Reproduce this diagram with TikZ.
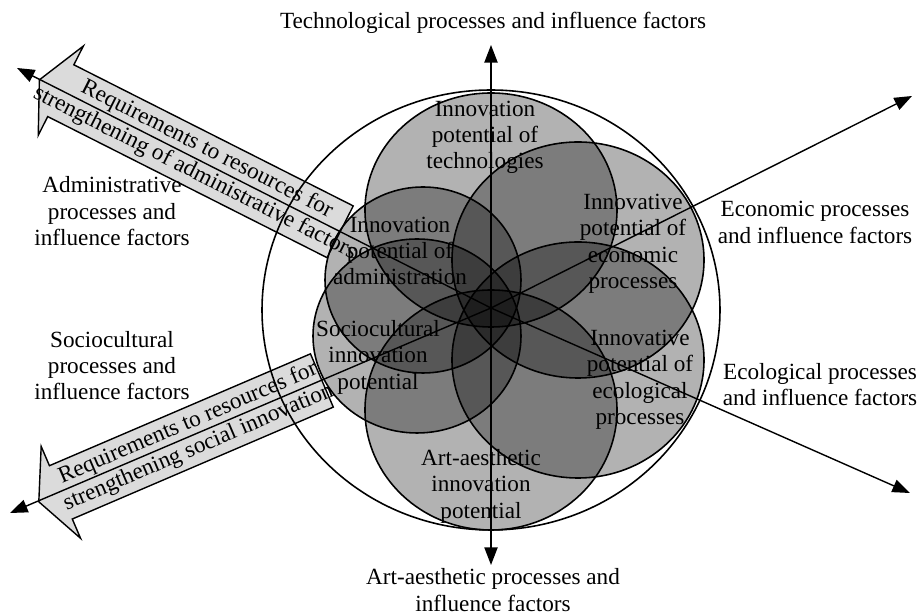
\documentclass[tikz,border=0pt]{standalone}
\usepackage{fontspec}
\setmainfont{Liberation Serif}
\usetikzlibrary{arrows.meta,calc,positioning}

\begin{document}
\begin{tikzpicture}[x=0.02cm, y=0.02cm, >={Triangle[length=10pt,width=7.5pt]},
  font=\fontsize{13.2}{15}\selectfont]
\tikzstyle{petal}=[draw, line width=0.9pt, fill=black, fill opacity=0.3]
\tikzstyle{axisline}=[line width=0.8pt]
\tikzstyle{fatarrow}=[draw, line width=0.8pt, fill=black, fill opacity=0.14]
\tikzstyle{factor}=[align=center, inner sep=0pt]
\tikzstyle{potential}=[align=center, inner sep=0pt]

\useasboundingbox (0,0) rectangle (917,615);

% centre and ends of the axes
\coordinate (c) at (491,307);
\coordinate (tech) at (491,570);
\coordinate (art) at (491,50);
\coordinate (econ) at (912,519);
\coordinate (ecol) at (910,122);
\coordinate (admin) at (17,547);
\coordinate (socio) at (10,102);

% outer circle and the six potentials
\draw[line width=0.9pt] (491,305) ellipse [x radius=229, y radius=220];
\draw[petal] (491,405) ellipse [x radius=126, y radius=117];
\draw[petal] (578,355) ellipse [x radius=126, y radius=118];
\draw[petal] (578,255) ellipse [x radius=126, y radius=118];
\draw[petal] (491,205) ellipse [x radius=126, y radius=120];
\draw[petal] (417,279) ellipse [x radius=104, y radius=97];
\draw[petal] (423,335) ellipse [x radius=98, y radius=93];

% axes
\draw[axisline,<->] (art) -- (tech);
\draw[axisline,->] (c) -- (econ);
\draw[axisline,->] (c) -- (ecol);
\draw[axisline,->] (c) -- (admin);
\draw[axisline,->] (c) -- (socio);

% block arrows
\begin{scope}[shift={(c)}, rotate=153.2]
  \draw[fatarrow] (169,-29) -- (482,-29) -- (482,-50) -- (506,0) -- (482,50) -- (482,29) -- (169,29) -- cycle;
\end{scope}
\begin{scope}[shift={(c)}, rotate=203.2]
  \draw[fatarrow] (184,-29) -- (468,-29) -- (468,-50) -- (492,0) -- (468,50) -- (468,29) -- (184,29) -- cycle;
\end{scope}
\node[rotate=-26.8, align=center, inner sep=0pt] (admreq) at ($(c)+(153.2:325)$)
  {Requirements to resources for\\strengthening of administrative factors};
\node[rotate=23.2, align=center, inner sep=0pt] (socreq) at ($(c)+(203.2:324)$)
  {Requirements to resources for\\strengthening social innovation};

% process labels
\node[factor] (techtxt) at (493,592.3) {Technological processes and influence factors};
\node[factor] (arttxt) at (493,24.8) {Art-aesthetic processes and\\influence factors};
\node[factor] (admintxt) at (112,403.8) {Administrative\\processes and\\influence factors};
\node[factor] (sociotxt) at (112,249.3) {Sociocultural\\processes and\\influence factors};
\node[factor] (econtxt) at (815,392.7) {Economic processes\\and influence factors};
\node[factor] (ecoltxt) at (820,230.7) {Ecological processes\\and influence factors};

% potential labels
\node[potential] (techpot) at (485,477.6) {Innovation\\potential of\\technologies};
\node[potential] (econpot) at (633,371.1) {Innovative\\potential of\\economic\\processes};
\node[potential] (adminpot) at (400,364.1) {Innovation\\potential of\\administration};
\node[potential] (sociopot) at (378,257.8) {Sociocultural\\innovation\\potential};
\node[potential] (ecolpot) at (640,235.1) {Innovative\\potential of\\ecological\\processes};
\node[potential] (artpot) at (481,128.8) {Art-aesthetic\\innovation\\potential};
\end{tikzpicture}
\end{document}
